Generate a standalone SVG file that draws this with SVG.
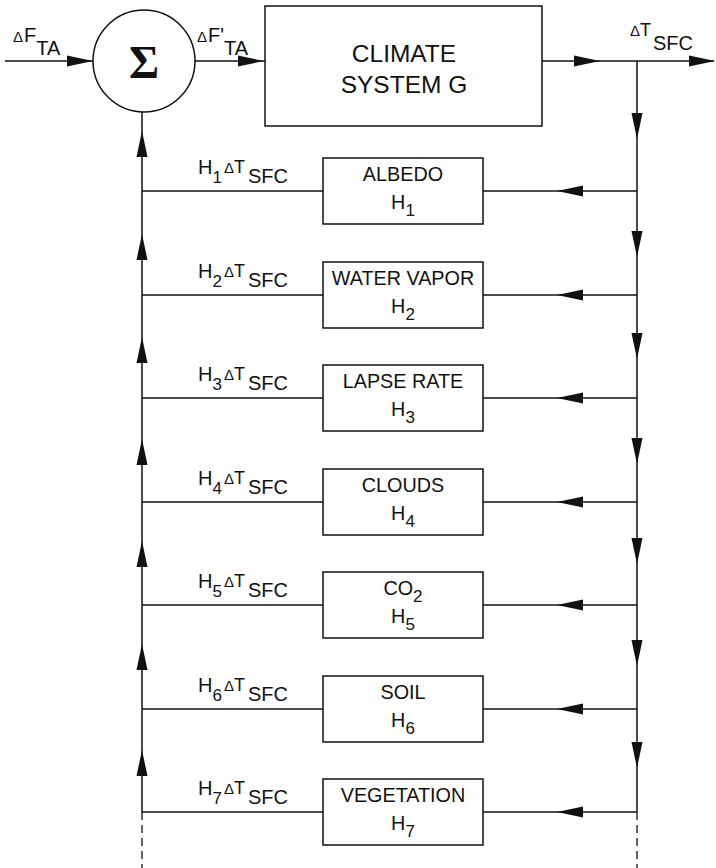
<svg xmlns="http://www.w3.org/2000/svg" width="716" height="868" viewBox="0 0 716 868">
<style>
.ln{stroke:#111;stroke-width:1.5;fill:none}
.ds{stroke:#111;stroke-width:1.3;fill:none;stroke-dasharray:8 5}
.bx{stroke:#111;stroke-width:1.5;fill:#fff}
.ah{fill:#111}
text{font-family:"Liberation Sans",Arial,sans-serif;fill:#111}
.nm{font-size:19.8px;text-anchor:middle}
.big{font-size:24.5px;text-anchor:middle}
.lb{font-size:20px}
.sb{font-size:17px}
.dl{font-size:15px}
.t{font-size:18px}
</style>
<defs>
<path id="ah" d="M0,0 L-26,-5.5 L-26,5.5 Z"/>
</defs>
<g id="connectors">
<line class="ln" x1="5" y1="61" x2="93" y2="61"/>
<use href="#ah" class="ah" transform="translate(93,61)"/>
<line class="ln" x1="195" y1="61" x2="265" y2="61"/>
<use href="#ah" class="ah" transform="translate(264,61)"/>
<line class="ln" x1="542" y1="61" x2="714" y2="61"/>
<use href="#ah" class="ah" transform="translate(600,61)"/>
<use href="#ah" class="ah" transform="translate(715,61)"/>
<line class="ln" x1="637" y1="61" x2="637" y2="812"/>
<line class="ds" x1="637" y1="812" x2="637" y2="868"/>
<line class="ln" x1="142" y1="112" x2="142" y2="812"/>
<line class="ds" x1="142" y1="812" x2="142" y2="868"/>
<g class="ah">
<use href="#ah" transform="translate(637,139) rotate(90)"/>
<use href="#ah" transform="translate(637,257) rotate(90)"/>
<use href="#ah" transform="translate(637,359) rotate(90)"/>
<use href="#ah" transform="translate(637,464) rotate(90)"/>
<use href="#ah" transform="translate(637,564) rotate(90)"/>
<use href="#ah" transform="translate(637,666) rotate(90)"/>
<use href="#ah" transform="translate(637,768) rotate(90)"/>
<use href="#ah" transform="translate(142,131) rotate(-90)"/>
<use href="#ah" transform="translate(142,234) rotate(-90)"/>
<use href="#ah" transform="translate(142,337) rotate(-90)"/>
<use href="#ah" transform="translate(142,439) rotate(-90)"/>
<use href="#ah" transform="translate(142,541) rotate(-90)"/>
<use href="#ah" transform="translate(142,644) rotate(-90)"/>
<use href="#ah" transform="translate(142,750) rotate(-90)"/>
</g>
<g>
<line class="ln" x1="142" y1="191" x2="323" y2="191"/><line class="ln" x1="483" y1="191" x2="637" y2="191"/>
<line class="ln" x1="142" y1="295" x2="323" y2="295"/><line class="ln" x1="483" y1="295" x2="637" y2="295"/>
<line class="ln" x1="142" y1="398" x2="323" y2="398"/><line class="ln" x1="483" y1="398" x2="637" y2="398"/>
<line class="ln" x1="142" y1="502" x2="323" y2="502"/><line class="ln" x1="483" y1="502" x2="637" y2="502"/>
<line class="ln" x1="142" y1="605" x2="323" y2="605"/><line class="ln" x1="483" y1="605" x2="637" y2="605"/>
<line class="ln" x1="142" y1="709" x2="323" y2="709"/><line class="ln" x1="483" y1="709" x2="637" y2="709"/>
<line class="ln" x1="142" y1="812" x2="323" y2="812"/><line class="ln" x1="483" y1="812" x2="637" y2="812"/>
</g>
<g class="ah">
<use href="#ah" transform="translate(557,191) rotate(180)"/>
<use href="#ah" transform="translate(557,295) rotate(180)"/>
<use href="#ah" transform="translate(557,398) rotate(180)"/>
<use href="#ah" transform="translate(557,502) rotate(180)"/>
<use href="#ah" transform="translate(557,605) rotate(180)"/>
<use href="#ah" transform="translate(557,709) rotate(180)"/>
<use href="#ah" transform="translate(557,812) rotate(180)"/>
</g>
<text x="13" y="42"><tspan class="dl">Δ</tspan><tspan class="lb" dx="1">F</tspan><tspan class="lb" dy="13">TA</tspan></text>
<text x="197" y="42"><tspan class="dl">Δ</tspan><tspan class="lb" dx="1">F'</tspan><tspan class="lb" dy="13">TA</tspan></text>
<text x="630" y="36"><tspan class="dl">Δ</tspan><tspan class="t">T</tspan><tspan class="lb" dx="2" dy="14">SFC</tspan></text>
<text x="198" y="174" class="lb">H<tspan class="sb" dy="9">1</tspan><tspan class="dl" dx="2" dy="-10">Δ</tspan><tspan class="t">T</tspan><tspan dx="3" dy="10">SFC</tspan></text>
<text x="198" y="278" class="lb">H<tspan class="sb" dy="9">2</tspan><tspan class="dl" dx="2" dy="-10">Δ</tspan><tspan class="t">T</tspan><tspan dx="3" dy="10">SFC</tspan></text>
<text x="198" y="381" class="lb">H<tspan class="sb" dy="9">3</tspan><tspan class="dl" dx="2" dy="-10">Δ</tspan><tspan class="t">T</tspan><tspan dx="3" dy="10">SFC</tspan></text>
<text x="198" y="485" class="lb">H<tspan class="sb" dy="9">4</tspan><tspan class="dl" dx="2" dy="-10">Δ</tspan><tspan class="t">T</tspan><tspan dx="3" dy="10">SFC</tspan></text>
<text x="198" y="588" class="lb">H<tspan class="sb" dy="9">5</tspan><tspan class="dl" dx="2" dy="-10">Δ</tspan><tspan class="t">T</tspan><tspan dx="3" dy="10">SFC</tspan></text>
<text x="198" y="692" class="lb">H<tspan class="sb" dy="9">6</tspan><tspan class="dl" dx="2" dy="-10">Δ</tspan><tspan class="t">T</tspan><tspan dx="3" dy="10">SFC</tspan></text>
<text x="198" y="795" class="lb">H<tspan class="sb" dy="9">7</tspan><tspan class="dl" dx="2" dy="-10">Δ</tspan><tspan class="t">T</tspan><tspan dx="3" dy="10">SFC</tspan></text>
</g>
<g id="sum">
<circle cx="144" cy="61" r="51" class="bx"/>
<text x="144" y="78" style="font-family:'Liberation Serif','Times New Roman',serif;font-size:46px;font-weight:bold;text-anchor:middle">Σ</text>
</g>
<g id="climate">
<rect x="265" y="6" width="277" height="120" class="bx"/>
<text x="404" y="62" class="big">CLIMATE</text>
<text x="404" y="93" class="big">SYSTEM G</text>
</g>
<g id="h1">
<rect x="323" y="158" width="160" height="66" class="bx"/>
<text x="403" y="181" class="nm">ALBEDO</text>
<text x="403" y="209" class="nm">H<tspan class="sb" dy="7">1</tspan></text>
</g>
<g id="h2">
<rect x="323" y="262" width="160" height="66" class="bx"/>
<text x="403" y="285" class="nm">WATER VAPOR</text>
<text x="403" y="313" class="nm">H<tspan class="sb" dy="7">2</tspan></text>
</g>
<g id="h3">
<rect x="323" y="365" width="160" height="66" class="bx"/>
<text x="403" y="388" class="nm">LAPSE RATE</text>
<text x="403" y="416" class="nm">H<tspan class="sb" dy="7">3</tspan></text>
</g>
<g id="h4">
<rect x="323" y="469" width="160" height="66" class="bx"/>
<text x="403" y="492" class="nm">CLOUDS</text>
<text x="403" y="520" class="nm">H<tspan class="sb" dy="7">4</tspan></text>
</g>
<g id="h5">
<rect x="323" y="572" width="160" height="66" class="bx"/>
<text x="403" y="595" class="nm">CO<tspan class="sb" dy="7">2</tspan></text>
<text x="403" y="623" class="nm">H<tspan class="sb" dy="7">5</tspan></text>
</g>
<g id="h6">
<rect x="323" y="676" width="160" height="66" class="bx"/>
<text x="403" y="699" class="nm">SOIL</text>
<text x="403" y="727" class="nm">H<tspan class="sb" dy="7">6</tspan></text>
</g>
<g id="h7">
<rect x="323" y="779" width="160" height="66" class="bx"/>
<text x="403" y="802" class="nm">VEGETATION</text>
<text x="403" y="830" class="nm">H<tspan class="sb" dy="7">7</tspan></text>
</g>
</svg>
